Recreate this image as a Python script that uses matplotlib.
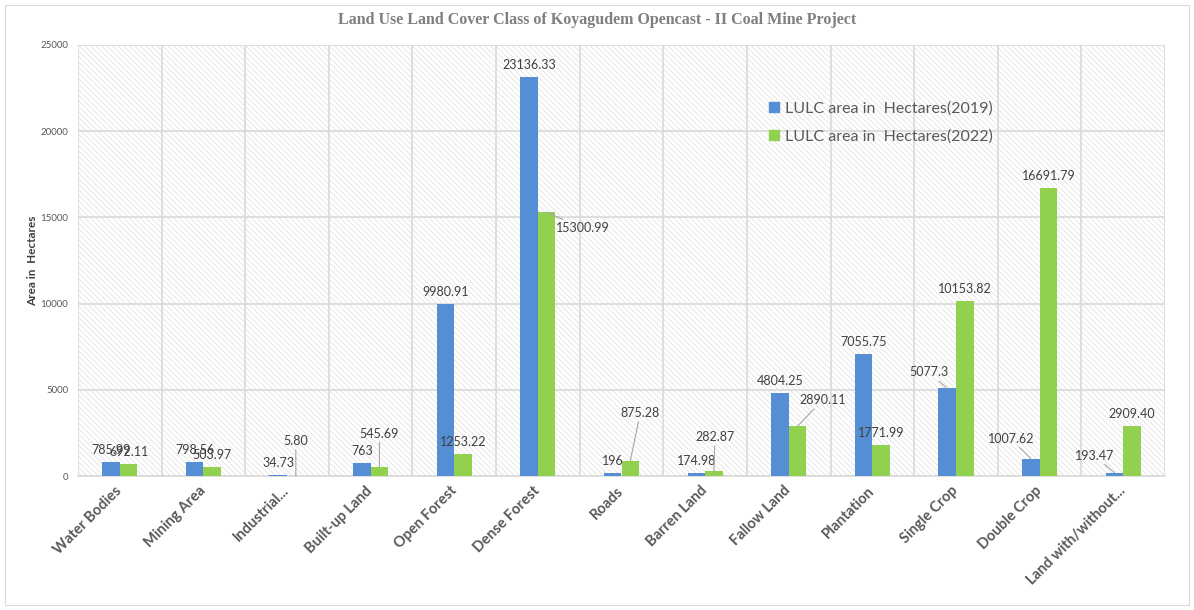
import matplotlib
matplotlib.use('Agg')
import matplotlib.pyplot as plt
from matplotlib.patches import Rectangle
from matplotlib.lines import Line2D
import numpy as np

plt.rcParams['font.family'] = ['Lato', 'DejaVu Sans']
plt.rcParams['hatch.linewidth'] = 0.4

# data
categories = ['Water Bodies', 'Mining Area', 'Industrial...', 'Built-up Land', 'Open Forest',
              'Dense Forest', 'Roads', 'Barren Land', 'Fallow Land', 'Plantation',
              'Single Crop', 'Double Crop', 'Land with/without...']
area_2019 = [785.99, 798.56, 34.73, 763, 9980.91, 23136.33, 196, 174.98, 4804.25, 7055.75,
             5077.3, 1007.62, 193.47]
area_2022 = [692.11, 503.97, 5.80, 545.69, 1253.22, 15300.99, 875.28, 282.87, 2890.11, 1771.99,
             10153.82, 16691.79, 2909.40]
labels_2019 = ['785.99', '798.56', '34.73', '763', '9980.91', '23136.33', '196', '174.98',
               '4804.25', '7055.75', '5077.3', '1007.62', '193.47']
labels_2022 = ['692.11', '503.97', '5.80', '545.69', '1253.22', '15300.99', '875.28', '282.87',
               '2890.11', '1771.99', '10153.82', '16691.79', '2909.40']
series_names = ['LULC area in  Hectares(2019)', 'LULC area in  Hectares(2022)']

# label placement (pixels from bar top), ones moved off the bar get a leader line
off_2019 = {10: (-18, 16), 11: (-20, 20), 12: (-20, 17)}
off_2022 = {2: (0, 35), 3: (0, 33), 5: (36, -16), 6: (10, 48), 7: (1, 34), 8: (25, 26)}

blue = '#558ED5'
green = '#92D050'
txt = '#404040'
grey = '#595959'

W, H = 1194, 610
fig = plt.figure(figsize=(W / 100, H / 100), dpi=100)
ax = fig.add_axes([78 / W, 1 - 476 / H, 1087 / W, 431 / H])

# hatched plot area
ax.add_patch(Rectangle((0, 0), 1, 1, transform=ax.transAxes, facecolor='white',
                       edgecolor='#D6D6D6', hatch='\\\\\\\\\\\\', lw=0, zorder=0))

x = np.arange(len(categories))
w = 0.21
ax.bar(x - w / 2, area_2019, w, color=blue, zorder=3)
ax.bar(x + w / 2, area_2022, w, color=green, zorder=3)

ax.set_xlim(-0.5, len(categories) - 0.5)
ax.set_ylim(0, 25000)
ax.set_yticks(np.arange(0, 25001, 5000))
ax.set_xticks(x)
ax.set_xticklabels(categories, rotation=45, ha='right', va='center', rotation_mode='anchor',
                   fontweight='bold', fontsize=10.5, color=grey)
ax.set_xticks(np.arange(-0.5, len(categories), 1), minor=True)
ax.tick_params(axis='x', which='both', length=0, pad=9)
ax.tick_params(axis='y', length=0, pad=7, labelsize=7, labelcolor=grey)
ax.grid(axis='y', color='#D9D9D9', lw=1.2, zorder=1)
ax.grid(axis='x', which='minor', color='#D9D9D9', lw=1.2, zorder=1)
ax.grid(axis='x', which='major', visible=False)
for s in ['top', 'left', 'right']:
    ax.spines[s].set_visible(False)
ax.spines['bottom'].set_color('#D9D9D9')
ax.spines['bottom'].set_linewidth(1.2)


def put_labels(xs, vals, labs, offs):
    for i, (xv, v, lab) in enumerate(zip(xs, vals, labs)):
        if i in offs:
            ax.annotate(lab, (xv, v), xytext=offs[i], textcoords='offset pixels',
                        ha='center', va='center', fontsize=9, color=txt, zorder=5,
                        arrowprops=dict(arrowstyle='-', color='#A6A6A6', lw=0.8,
                                        shrinkA=0, shrinkB=0))
        else:
            ax.annotate(lab, (xv, v), xytext=(0, 12), textcoords='offset pixels',
                        ha='center', va='center', fontsize=9, color=txt, zorder=5)


put_labels(x - w / 2, area_2019, labels_2019, off_2019)
put_labels(x + w / 2, area_2022, labels_2022, off_2022)

fig.text(0.5, 1 - 20 / H, 'Land Use Land Cover Class of Koyagudem Opencast - II Coal Mine Project',
         ha='center', va='center', family=['Liberation Serif', 'DejaVu Serif'],
         weight='bold', size=11.5, color='#7F7F7F')
fig.text(33 / W, 1 - 261 / H, 'Area in  Hectares', rotation=90, ha='center', va='center',
         weight='bold', size=8.5, color=txt)

handles = [Line2D([], [], ls='none', marker='s', ms=7, mfc=c, mec=c) for c in (blue, green)]
fig.legend(handles, series_names, loc='upper left', bbox_to_anchor=(768 / W, 1 - 101 / H),
           frameon=False, fontsize=11.5, labelcolor=grey, handlelength=0.7,
           handletextpad=0.35, labelspacing=0.85, borderpad=0, borderaxespad=0)

# chart border
fig.add_artist(Rectangle((5 / W, 5 / H), 1 - 10 / W, 1 - 10 / H, transform=fig.transFigure,
                         fill=False, edgecolor='#D9D9D9', lw=0.8))

fig.savefig('out.png', dpi=100)
